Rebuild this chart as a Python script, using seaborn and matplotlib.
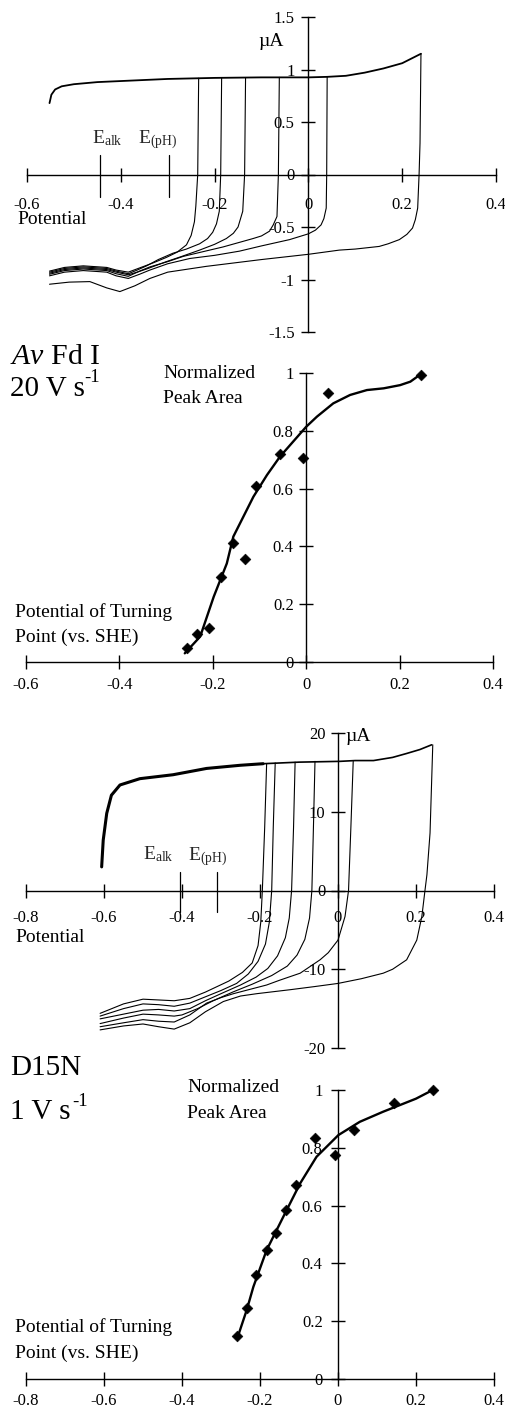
import matplotlib
matplotlib.use("Agg")
import matplotlib.pyplot as plt
import seaborn as sns

sns.set_style("white")
plt.rcParams["font.family"] = ["Liberation Serif", "DejaVu Serif"]
plt.rcParams["mathtext.fontset"] = "custom"
plt.rcParams["mathtext.rm"] = "Liberation Serif"
plt.rcParams["mathtext.it"] = "Liberation Serif:italic"
plt.rcParams["axes.unicode_minus"] = False

# ---------------- Av Fd I, 20 V/s : cyclic voltammograms (uA vs V) ----------------
cv1_upper_x = [-0.552, -0.548, -0.540, -0.526, -0.50, -0.45, -0.40, -0.35, -0.30, -0.25, -0.20,
               -0.10, 0.0, 0.04, 0.08, 0.12, 0.16, 0.20, 0.24]
cv1_upper_y = [0.68, 0.76, 0.81, 0.84, 0.86, 0.88, 0.89, 0.90, 0.91, 0.915, 0.92,
               0.925, 0.925, 0.93, 0.94, 0.97, 1.01, 1.06, 1.15]
cv1_lower = {
    -0.234: ([-0.234, -0.236, -0.240, -0.243, -0.250, -0.260, -0.280, -0.303, -0.33, -0.36, -0.384,
              -0.41, -0.43, -0.48, -0.52, -0.552],
             [0.917, 0.0, -0.30, -0.45, -0.58, -0.67, -0.74, -0.79, -0.84, -0.89, -0.93,
              -0.91, -0.885, -0.87, -0.885, -0.92]),
    -0.185: ([-0.185, -0.187, -0.190, -0.196, -0.204, -0.215, -0.232, -0.26, -0.289, -0.32, -0.345,
              -0.365, -0.384, -0.41, -0.43, -0.48, -0.52, -0.552],
             [0.92, 0.0, -0.35, -0.47, -0.55, -0.61, -0.66, -0.71, -0.75, -0.81, -0.87,
              -0.91, -0.945, -0.92, -0.895, -0.88, -0.895, -0.93]),
    -0.134: ([-0.134, -0.136, -0.140, -0.150, -0.16, -0.175, -0.20, -0.232, -0.27, -0.303, -0.345,
              -0.365, -0.384, -0.41, -0.43, -0.48, -0.52, -0.552],
             [0.92, 0.0, -0.35, -0.50, -0.56, -0.61, -0.665, -0.72, -0.78, -0.83, -0.90,
              -0.93, -0.955, -0.93, -0.905, -0.89, -0.905, -0.94]),
    -0.062: ([-0.062, -0.064, -0.067, -0.075, -0.083, -0.10, -0.118, -0.15, -0.182, -0.22, -0.267,
              -0.30, -0.338, -0.36, -0.384, -0.41, -0.43, -0.48, -0.52, -0.552],
             [0.925, 0.0, -0.40, -0.48, -0.54, -0.585, -0.61, -0.65, -0.69, -0.73, -0.78,
              -0.83, -0.88, -0.92, -0.97, -0.945, -0.915, -0.90, -0.915, -0.95]),
    0.040: ([0.040, 0.039, 0.038, 0.033, 0.027, 0.015, 0.0, -0.04, -0.10, -0.147, -0.20,
             -0.253, -0.30, -0.338, -0.36, -0.384, -0.41, -0.43, -0.48, -0.52, -0.552],
            [0.93, 0.0, -0.32, -0.42, -0.48, -0.53, -0.565, -0.62, -0.68, -0.73, -0.77,
             -0.80, -0.85, -0.91, -0.95, -0.99, -0.965, -0.93, -0.915, -0.93, -0.965]),
    0.240: ([0.240, 0.238, 0.236, 0.233, 0.228, 0.222, 0.210, 0.194, 0.17, 0.151, 0.10, 0.066,
             0.0, -0.10, -0.218, -0.30, -0.338, -0.37, -0.402, -0.43, -0.466, -0.51, -0.552],
            [1.15, 0.3, 0.0, -0.32, -0.43, -0.51, -0.57, -0.62, -0.66, -0.685, -0.71, -0.72,
             -0.76, -0.81, -0.875, -0.93, -0.99, -1.06, -1.115, -1.08, -1.02, -1.025, -1.045]),
}
cv1_e_alk, cv1_e_ph = -0.445, -0.298

# ---------------- Av Fd I : normalized peak area vs turning potential ----------------
area1_x = [-0.255, -0.233, -0.208, -0.183, -0.157, -0.132, -0.107, -0.057, -0.007, 0.046, 0.246]
area1_y = [0.047, 0.097, 0.119, 0.295, 0.411, 0.355, 0.609, 0.719, 0.707, 0.930, 0.993]
fit1_x = [-0.260, -0.227, -0.198, -0.170, -0.156, -0.113, -0.084, -0.056, 0.0, 0.023, 0.058,
          0.094, 0.130, 0.166, 0.201, 0.223, 0.248]
fit1_y = [0.030, 0.088, 0.226, 0.341, 0.434, 0.572, 0.647, 0.711, 0.814, 0.849, 0.895,
          0.924, 0.941, 0.947, 0.958, 0.970, 0.999]

# ---------------- D15N, 1 V/s : cyclic voltammograms ----------------
cv2_band_x = [-0.606, -0.602, -0.593, -0.581, -0.559, -0.508, -0.423, -0.337, -0.251, -0.192]
cv2_band_y = [3.0, 6.4, 9.8, 12.1, 13.4, 14.2, 14.7, 15.5, 15.9, 16.1]
cv2_tail_x = [-0.192, -0.10, 0.005, 0.044, 0.091, 0.140, 0.176, 0.210, 0.240]
cv2_tail_y = [16.1, 16.3, 16.4, 16.5, 16.5, 16.9, 17.4, 17.9, 18.5]
cv2_lower = {
    -0.183: ([-0.183, -0.188, -0.194, -0.198, -0.205, -0.220, -0.245, -0.28, -0.31, -0.34, -0.38,
              -0.42, -0.46, -0.50, -0.55, -0.61],
             [16.1, 8.0, 0.0, -4.0, -7.0, -9.2, -10.4, -11.5, -12.2, -12.9, -13.7,
              -14.0, -13.9, -13.8, -14.4, -15.6]),
    -0.161: ([-0.161, -0.166, -0.170, -0.176, -0.186, -0.205, -0.23, -0.26, -0.30, -0.34, -0.38,
              -0.42, -0.46, -0.50, -0.55, -0.61],
             [16.2, 8.0, 0.0, -4.0, -6.8, -9.0, -10.6, -11.8, -12.7, -13.5, -14.3,
              -14.7, -14.5, -14.4, -15.0, -15.95]),
    -0.110: ([-0.110, -0.114, -0.119, -0.125, -0.135, -0.155, -0.18, -0.21, -0.25, -0.30, -0.34,
              -0.38, -0.42, -0.46, -0.50, -0.55, -0.61],
             [16.3, 8.0, 0.0, -3.5, -6.0, -8.3, -9.9, -11.0, -12.0, -13.1, -14.0,
              -15.0, -15.3, -15.1, -15.2, -15.7, -16.3]),
    -0.059: ([-0.059, -0.063, -0.067, -0.073, -0.085, -0.105, -0.13, -0.17, -0.22, -0.27, -0.32,
              -0.36, -0.40, -0.42, -0.46, -0.50, -0.55, -0.61],
             [16.4, 8.0, 0.0, -3.5, -6.2, -8.2, -9.6, -10.8, -11.9, -12.9, -14.0,
              -15.0, -15.8, -15.95, -15.8, -15.7, -16.2, -16.9]),
    0.039: ([0.039, 0.033, 0.027, 0.018, 0.0, -0.025, -0.046, -0.097, -0.15, -0.183, -0.268,
             -0.30, -0.337, -0.38, -0.42, -0.46, -0.50, -0.55, -0.61],
            [16.4, 8.0, 0.0, -3.3, -6.3, -7.9, -8.8, -10.5, -11.4, -12.0, -13.1,
             -13.6, -14.3, -15.8, -16.7, -16.6, -16.4, -16.8, -17.3]),
    0.243: ([0.243, 0.236, 0.228, 0.223, 0.215, 0.202, 0.176, 0.14, 0.116, 0.06, 0.0, -0.06,
             -0.123, -0.208, -0.25, -0.294, -0.34, -0.38, -0.42, -0.46, -0.50, -0.55, -0.61],
            [18.5, 7.3, 2.0, 0.0, -3.3, -6.3, -8.8, -10.0, -10.5, -11.2, -11.8, -12.2,
             -12.6, -13.1, -13.4, -14.1, -15.4, -16.8, -17.6, -17.3, -16.95, -17.2, -17.7]),
}
cv2_e_alk, cv2_e_ph = -0.405, -0.311

# ---------------- D15N : normalized peak area ----------------
area2_x = [-0.258, -0.233, -0.209, -0.183, -0.158, -0.133, -0.108, -0.060, -0.008, 0.042, 0.144, 0.243]
area2_y = [0.149, 0.245, 0.360, 0.446, 0.504, 0.585, 0.671, 0.833, 0.775, 0.862, 0.954, 1.0]
fit2_x = [-0.256, -0.234, -0.217, -0.183, -0.140, -0.097, -0.055, 0.001, 0.056, 0.116, 0.159, 0.200, 0.243]
fit2_y = [0.150, 0.239, 0.319, 0.446, 0.562, 0.677, 0.769, 0.844, 0.890, 0.925, 0.948, 0.970, 1.0]

W, H = 506, 1414
fig = plt.figure(figsize=(W / 100, H / 100), dpi=100)


def px_axes(left, right, top, bottom):
    return fig.add_axes([left / W, 1 - bottom / H, (right - left) / W, (bottom - top) / H])


def style_axes(ax, xlim, ylim, xticks, yticks, xpad, ypad):
    ax.set_xlim(xlim)
    ax.set_ylim(ylim)
    ax.patch.set_alpha(0)
    for s in ("top", "right"):
        ax.spines[s].set_visible(False)
    for s in ("left", "bottom"):
        ax.spines[s].set_position(("data", 0))
        ax.spines[s].set_color("black")
        ax.spines[s].set_linewidth(1.0)
    ax.set_xticks(xticks)
    ax.set_xticklabels([f"{v:g}" for v in xticks])
    ax.set_yticks(yticks)
    ax.set_yticklabels([f"{v:g}" for v in yticks])
    ax.tick_params(axis="x", bottom=True, direction="inout", length=10, width=1.0, pad=xpad,
                   labelsize=12, colors="black")
    ax.tick_params(axis="y", left=True, direction="inout", length=10, width=1.0, pad=ypad,
                   labelsize=12, colors="black")
    ax.set_xlabel("")
    ax.set_ylabel("")


def trace(ax, x, y, lw=0.8):
    sns.lineplot(x=x, y=y, ax=ax, sort=False, estimator=None, color="black", lw=lw)


def ftext(px, py, s, size=14, **kw):
    fig.text(px / W, 1 - py / H, s, fontsize=size, color="black", **kw)


# panel 1
ax1 = px_axes(27, 496, 17, 332)
trace(ax1, cv1_upper_x, cv1_upper_y, lw=1.3)
for ex, (lx, ly) in cv1_lower.items():
    trace(ax1, lx, ly)
for e in (cv1_e_alk, cv1_e_ph):
    ax1.plot([e, e], [0.19, -0.21], color="black", lw=0.9)
style_axes(ax1, (-0.6, 0.4), (-1.5, 1.5), [-0.6, -0.4, -0.2, 0, 0.2, 0.4],
           [-1.5, -1, -0.5, 0, 0.5, 1, 1.5], 11, 5)
ax1.text(-0.462, 0.30, r"E$_{\mathrm{alk}}$", fontsize=14, va="baseline")
ax1.text(-0.364, 0.30, r"E$_{\mathrm{(pH)}}$", fontsize=14, va="baseline")
ftext(258, 42, "\u00b5A", va="center")
ftext(17, 220, "Potential", va="center")

# panel 2
ax2 = px_axes(26, 493, 373, 662)
trace(ax2, fit1_x, fit1_y, lw=1.7)
sns.scatterplot(x=area1_x, y=area1_y, ax=ax2, marker="D", s=30, color="black",
                edgecolor="black", clip_on=False, zorder=3)
style_axes(ax2, (-0.6, 0.4), (0, 1), [-0.6, -0.4, -0.2, 0, 0.2, 0.4],
           [0, 0.2, 0.4, 0.6, 0.8, 1], 6, 4)
ftext(10, 357, r"$\mathit{Av}$ Fd I", size=21.5, va="center")
ftext(10, 389, "20 V s", size=21, va="center")
ftext(84, 378, "-1", size=13.5, va="center")
ftext(163, 373, "Normalized", va="center")
ftext(163, 398, "Peak Area", va="center")
ftext(15, 612, "Potential of Turning", va="center")
ftext(15, 637, "Point (vs. SHE)", va="center")

# panel 3
ax3 = px_axes(26, 494, 733, 1048)
trace(ax3, cv2_band_x, cv2_band_y, lw=2.2)
trace(ax3, cv2_tail_x, cv2_tail_y, lw=1.2)
for ex, (lx, ly) in cv2_lower.items():
    trace(ax3, lx, ly)
for e in (cv2_e_alk, cv2_e_ph):
    ax3.plot([e, e], [2.4, -2.7], color="black", lw=0.9)
style_axes(ax3, (-0.8, 0.4), (-20, 20), [-0.8, -0.6, -0.4, -0.2, 0, 0.2, 0.4],
           [-20, -10, 0, 10, 20], 9, 4)
ax3.text(-0.499, 3.9, r"E$_{\mathrm{alk}}$", fontsize=14, va="baseline")
ax3.text(-0.384, 3.9, r"E$_{\mathrm{(pH)}}$", fontsize=14, va="baseline")
ftext(345, 737, "\u00b5A", va="center")
ftext(15, 938, "Potential", va="center")

# panel 4
ax4 = px_axes(26, 494, 1090, 1379)
trace(ax4, fit2_x, fit2_y, lw=1.7)
sns.scatterplot(x=area2_x, y=area2_y, ax=ax4, marker="D", s=30, color="black",
                edgecolor="black", clip_on=False, zorder=3)
style_axes(ax4, (-0.8, 0.4), (0, 1), [-0.8, -0.6, -0.4, -0.2, 0, 0.2, 0.4],
           [0, 0.2, 0.4, 0.6, 0.8, 1], 5, 6)
ftext(10, 1068, "D15N", size=21, va="center")
ftext(10, 1112, "1 V s", size=21, va="center")
ftext(72, 1102, "-1", size=13.5, va="center")
ftext(187, 1088, "Normalized", va="center")
ftext(187, 1113, "Peak Area", va="center")
ftext(15, 1327, "Potential of Turning", va="center")
ftext(15, 1353, "Point (vs. SHE)", va="center")

fig.savefig("out.png", dpi=100)
